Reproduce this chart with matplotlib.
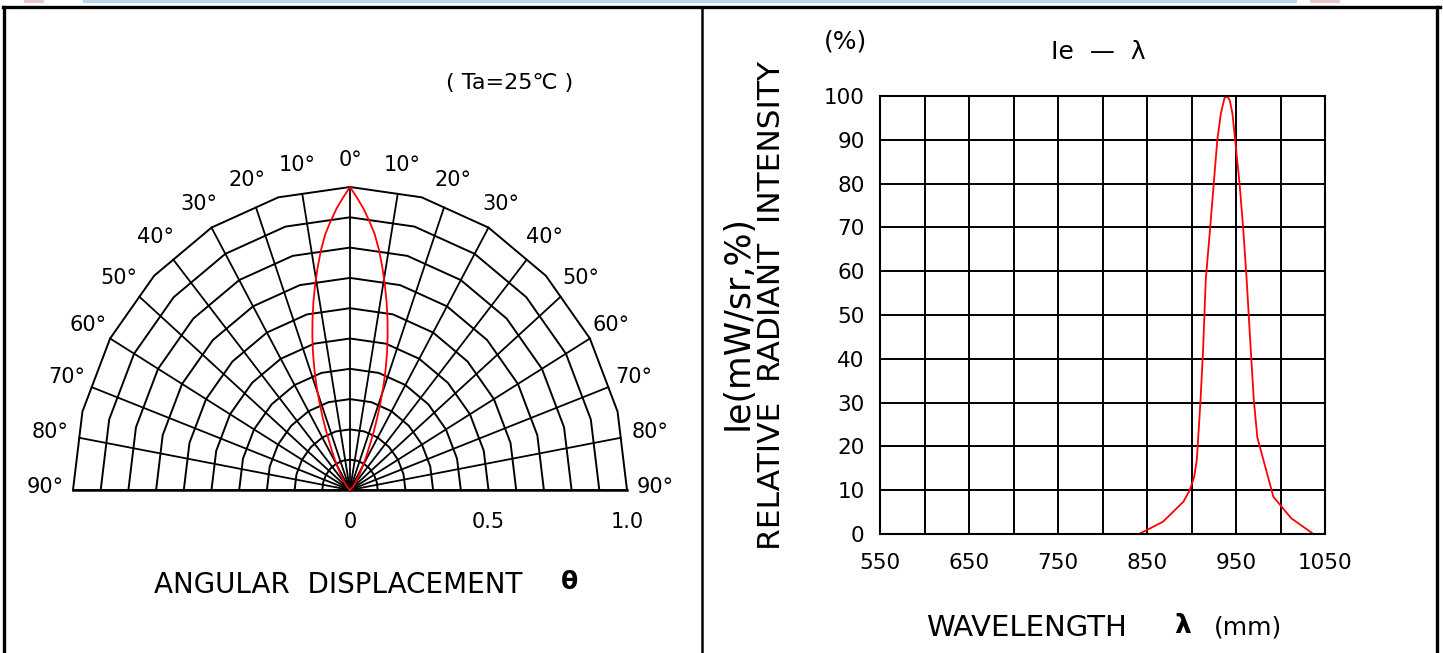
import numpy as np
import matplotlib
matplotlib.use("Agg")
import matplotlib.pyplot as plt
from matplotlib.lines import Line2D
from matplotlib.patches import Rectangle

W, H = 1443, 653
DPI = 100

# ---------------- data ----------------
# radiation pattern (half, symmetric): angle in degrees, relative intensity
pattern_angles = [0, 1.5, 3, 4.5, 6, 7.5, 9, 10.5, 12, 13.5, 15, 16.5, 18, 19.5,
                  21, 22.5, 24, 25.5, 27, 28.5, 30, 32.5, 35, 40, 45, 50]
pattern_r = [1.0, 0.965, 0.93, 0.89, 0.85, 0.80, 0.745, 0.69, 0.635, 0.58, 0.525,
             0.47, 0.415, 0.36, 0.305, 0.255, 0.21, 0.17, 0.14, 0.115, 0.095,
             0.07, 0.05, 0.03, 0.015, 0.0]
ring_radii = [0.1, 0.2, 0.3, 0.4, 0.5, 0.6, 0.7, 0.8, 0.9, 1.0]
radial_angles = list(range(-90, 91, 10))
ring_vertex_angles = list(range(-90, 91, 15))
radius_ticks = [0, 0.5, 1.0]
radius_tick_labels = ["0", "0.5", "1.0"]

# spectrum
wavelength = [841, 868, 891, 898, 903, 906, 910, 913, 916, 921, 925, 929, 933, 937,
              940, 943, 946, 949, 954, 958, 962, 966, 970, 974, 992, 1012, 1037]
intensity = [0, 2.8, 7.4, 10, 13, 17, 30, 42, 58, 70, 80, 90, 96, 99.5,
             100, 99, 96, 90, 80, 70, 58, 44, 30.6, 22, 8.5, 3.6, 0]
x_grid = list(range(550, 1051, 50))
x_labels = ["550", "", "650", "", "750", "", "850", "", "950", "", "1050"]
y_grid = list(range(0, 101, 10))
y_labels = [str(v) for v in y_grid]

# ---------------- figure ----------------
plt.rcParams["font.family"] = ["DejaVu Sans"]
fig = plt.figure(figsize=(W / DPI, H / DPI), dpi=DPI)
fig.patch.set_facecolor("white")


def rect(x0, y0, x1, y1):
    return [x0 / W, 1 - y1 / H, (x1 - x0) / W, (y1 - y0) / H]


def fx(x):
    return x / W


def fy(y):
    return 1 - y / H


# frame lines
frame_lw = 2.4
fig.add_artist(Line2D([fx(3), fx(1440)], [fy(7), fy(7)], color="black", lw=frame_lw))
fig.add_artist(Line2D([fx(4), fx(4)], [fy(7), fy(653)], color="black", lw=frame_lw))
fig.add_artist(Line2D([fx(702), fx(702)], [fy(7), fy(653)], color="black", lw=1.8))
fig.add_artist(Line2D([fx(1437), fx(1437)], [fy(7), fy(653)], color="black", lw=frame_lw))
# small strip at the very top
fig.add_artist(Rectangle((fx(83), fy(3)), fx(1297) - fx(83), 3 / H,
                         transform=fig.transFigure, color="#b3d9f2", lw=0))
fig.add_artist(Rectangle((fx(24), fy(3)), fx(44) - fx(24), 3 / H,
                         transform=fig.transFigure, color="#e8c8c8", lw=0))
fig.add_artist(Rectangle((fx(1310), fy(3)), fx(1340) - fx(1310), 3 / H,
                         transform=fig.transFigure, color="#e8c8c8", lw=0))

# ---------------- left: radiation pattern ----------------
cx, cy, Sx, Sy = 350, 490, 277, 303
L0, T0, R0, B0 = 6, 9, 700, 653
ax1 = fig.add_axes(rect(L0, T0, R0, B0))
ax1.set_xlim((L0 - cx) / Sx, (R0 - cx) / Sx)
ax1.set_ylim((cy - B0) / Sy, (cy - T0) / Sy)
ax1.axis("off")

va = np.radians(ring_vertex_angles)
for r in ring_radii:
    ax1.plot(r * np.sin(va), r * np.cos(va), color="black", lw=1.4,
             solid_joinstyle="miter")

half = np.radians(7.5)
for a in radial_angles:
    if abs(a) == 90:
        R = 1.0
    else:
        k = np.floor((a + 90) / 15.0)
        mid = -90 + 15 * k + 7.5
        R = np.cos(half) / np.cos(np.radians(a - mid))
    t = np.radians(a)
    ax1.plot([0, R * np.sin(t)], [0, R * np.cos(t)], color="black", lw=1.3)

ax1.plot([-1, 1], [0, 0], color="black", lw=1.8)

# pattern curve
full_ang = np.radians(np.array([-a for a in pattern_angles[::-1]] + pattern_angles[1:]))
full_r = np.array(pattern_r[::-1] + pattern_r[1:])
ax1.plot(full_r * np.sin(full_ang), full_r * np.cos(full_ang), color="#ff0000", lw=1.3)

lab_fs = 15
for a in radial_angles:
    t = np.radians(a)
    rl = 1.09 if abs(a) < 80 else 1.10
    ax1.text(rl * np.sin(t), rl * np.cos(t) + (0.01 if abs(a) == 90 else 0),
             f"{abs(a)}°", ha="center", va="center", fontsize=lab_fs)

for v, s in zip(radius_ticks, radius_tick_labels):
    ax1.text(v, (cy - 522) / Sy, s, ha="center", va="center", fontsize=lab_fs)

fig.text(fx(510), fy(83), "( Ta=25℃ )", ha="center", va="center", fontsize=16)
fig.text(fx(338), fy(585), "ANGULAR  DISPLACEMENT", ha="center", va="center",
         fontsize=20)
fig.text(fx(570), fy(582), "θ", ha="center", va="center", fontsize=18,
         fontweight="bold")

# ---------------- right: spectrum ----------------
ax2 = fig.add_axes(rect(880, 96, 1325, 534))
ax2.set_xlim(550, 1050)
ax2.set_ylim(0, 100)
ax2.set_xticks(x_grid)
ax2.set_xticklabels(x_labels)
ax2.set_yticks(y_grid)
ax2.set_yticklabels(y_labels)
ax2.grid(True, color="black", lw=1.4)
ax2.tick_params(length=0, labelsize=15.5, colors="black")
ax2.tick_params(axis="x", pad=14)
ax2.tick_params(axis="y", pad=11)
for sp in ax2.spines.values():
    sp.set_color("black")
    sp.set_linewidth(1.5)
ax2.set_axisbelow(True)
ax2.plot(wavelength, intensity, color="#ff0000", lw=1.3, clip_on=False)

fig.text(fx(845), fy(42), "(%)", ha="center", va="center", fontsize=18)
fig.text(fx(1098), fy(52), "Ie  —  λ", ha="center", va="center", fontsize=18)
fig.text(fx(738), fy(322), "Ie(mW/sr,%)", ha="center", va="center", fontsize=25,
         rotation=90)
fig.text(fx(772), fy(305), "RELATIVE  RADIANT  INTENSITY", ha="center", va="center",
         fontsize=22.5, rotation=90)
fig.text(fx(1026), fy(628), "WAVELENGTH", ha="center", va="center", fontsize=21)
fig.text(fx(1183), fy(626), "λ", ha="center", va="center", fontsize=19,
         fontweight="bold")
fig.text(fx(1248), fy(628), "(mm)", ha="center", va="center", fontsize=18)

fig.savefig("out.png", dpi=DPI)
